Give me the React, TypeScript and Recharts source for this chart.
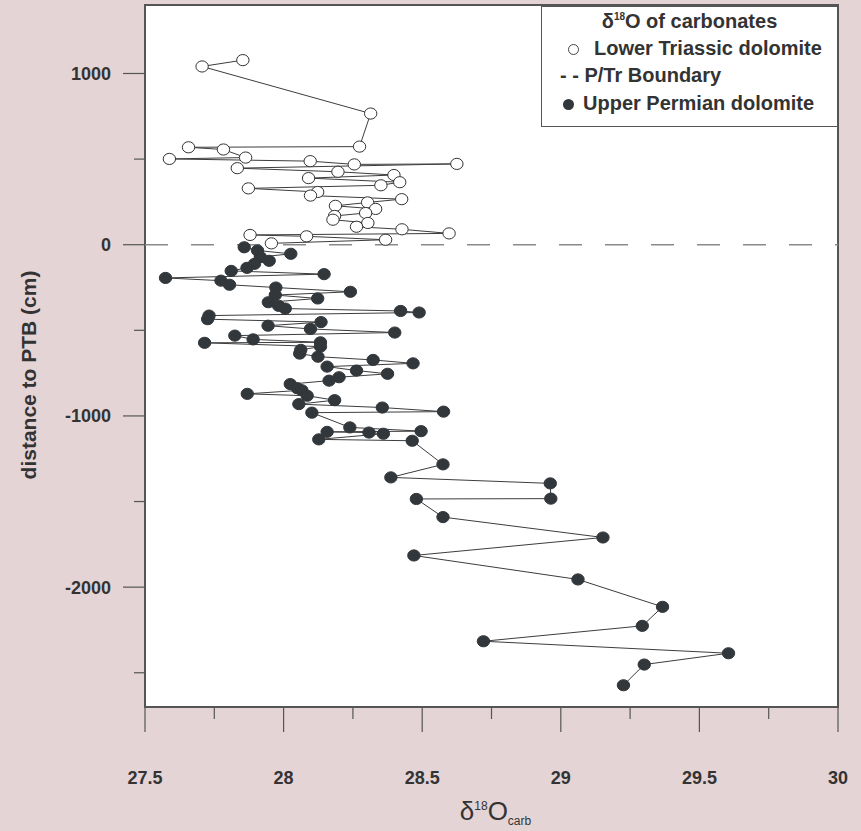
import {
  ScatterChart,
  Scatter,
  XAxis,
  YAxis,
  CartesianGrid,
  ReferenceLine,
  ReferenceArea,
} from 'recharts';

// Lower Triassic dolomite, listed in the order the profile line joins them
const triassicO18 = [
  27.853, 27.706, 28.314, 28.274, 27.657, 27.783, 27.863, 27.588, 28.096, 28.255,
  28.625, 27.833, 28.196, 28.398, 28.09, 28.419, 28.351, 27.873, 28.123, 28.097,
  28.426, 28.303, 28.187, 28.332, 28.296, 28.184, 28.178, 28.304, 28.263, 28.427,
  28.597, 27.879, 28.083, 28.368, 27.956,
];
const triassicDepth = [
  1078, 1041, 766, 573, 569, 556, 509, 501, 488, 469,
  472, 447, 426, 407, 389, 365, 347, 329, 308, 287,
  266, 247, 227, 209, 185, 168, 146, 127, 105, 90,
  66, 57, 49, 29, 8,
];

// Upper Permian dolomite
const permianO18 = [
  27.858, 27.906, 28.026, 27.916, 27.948, 27.895, 27.868, 27.811, 28.146, 27.574,
  27.774, 27.805, 27.972, 28.241, 27.97, 28.123, 27.945, 27.982, 28.006, 28.422,
  28.489, 27.731, 27.726, 28.135, 27.944, 28.097, 28.401, 27.824, 27.89, 28.133,
  27.715, 28.133, 28.062, 28.058, 28.124, 28.323, 28.467, 28.157, 28.263, 28.375,
  28.2, 28.164, 28.024, 28.049, 28.066, 27.869, 28.085, 28.184, 28.055, 28.356,
  28.577, 28.102, 28.239, 28.496, 28.157, 28.308, 28.36, 28.127, 28.464, 28.575,
  28.387, 28.962, 28.964, 28.479, 28.575, 29.152, 28.47, 29.062, 29.367, 29.294,
  28.721, 29.605, 29.301, 29.226,
];
const permianDepth = [
  -15, -34, -53, -72, -94, -112, -135, -153, -172, -194,
  -210, -234, -250, -275, -294, -314, -336, -357, -373, -387,
  -396, -414, -435, -452, -473, -492, -513, -531, -553, -570,
  -573, -595, -614, -636, -654, -673, -693, -712, -735, -754,
  -774, -794, -814, -838, -850, -871, -882, -908, -931, -951,
  -975, -981, -1067, -1089, -1093, -1097, -1104, -1137, -1145, -1283,
  -1359, -1394, -1483, -1485, -1591, -1710, -1815, -1955, -2115, -2226,
  -2316, -2386, -2452, -2573,
];

const xTicks = [27.5, 27.75, 28, 28.25, 28.5, 28.75, 29, 29.25, 29.5, 29.75, 30];
const xLabelled = [27.5, 28, 28.5, 29, 29.5, 30];
const yTicks = [-2500, -2000, -1500, -1000, -500, 0, 500, 1000];
const yLabelled = [-2000, -1000, 0, 1000];

const FONT = "'Liberation Sans', Arial, Helvetica, sans-serif";
const INK = '#333';

const triassic = triassicO18.map((x, i) => ({ x, y: triassicDepth[i] }));
const permian = permianO18.map((x, i) => ({ x, y: permianDepth[i] }));

function OpenMark(props: any) {
  const { cx, cy } = props;
  return <ellipse cx={cx} cy={cy} rx={6.2} ry={5.6} fill="#fff" stroke="#333" strokeWidth={1} />;
}

function FilledMark(props: any) {
  const { cx, cy } = props;
  return <ellipse cx={cx} cy={cy} rx={6.2} ry={5.6} fill="#32373c" stroke="#32373c" strokeWidth={1} />;
}

function XTick(props: any) {
  const { x, y, payload } = props;
  const major = xLabelled.includes(payload.value);
  return (
    <g>
      <line x1={x} x2={x} y1={y} y2={y + (major ? 25 : 12)} stroke="#555" strokeWidth={1.2} />
      {major && (
        <text x={x} y={y + 77} textAnchor="middle" fontSize={18} fontWeight="bold" fill={INK} fontFamily={FONT}>
          {payload.value}
        </text>
      )}
    </g>
  );
}

function YTick(props: any) {
  const { x, y, payload } = props;
  const major = yLabelled.includes(payload.value);
  return (
    <g>
      <line x1={x - (major ? 22 : 11)} x2={x} y1={y} y2={y} stroke="#555" strokeWidth={1.2} />
      {major && (
        <text x={x - 34} y={y} dy="0.36em" textAnchor="end" fontSize={18} fontWeight="bold" fill={INK} fontFamily={FONT}>
          {payload.value}
        </text>
      )}
    </g>
  );
}

function YTitle(props: any) {
  const { viewBox } = props;
  const cx = viewBox.x + 28;
  const cy = viewBox.y + 370;
  return (
    <text x={cx} y={cy} transform={`rotate(-90 ${cx} ${cy})`} textAnchor="middle" dy="0.36em"
      fontSize={21} fontWeight="bold" fill={INK} fontFamily={FONT}>
      distance to PTB (cm)
    </text>
  );
}

function XTitle(props: any) {
  const { viewBox } = props;
  const cx = viewBox.x + viewBox.width / 2 + 4;
  const cy = viewBox.y + 113;
  return (
    <text x={cx} y={cy} textAnchor="middle" fontSize={26} fill={INK} fontFamily={FONT}>
      <tspan>δ</tspan>
      <tspan dy={-10} fontSize={12}>18</tspan>
      <tspan dy={10}>O</tspan>
      <tspan dy={5} fontSize={12}>carb</tspan>
    </text>
  );
}

function LegendBox() {
  const row = { position: 'absolute' as const, whiteSpace: 'nowrap' as const, lineHeight: '22px', height: 22 };
  return (
    <div
      style={{
        position: 'absolute', left: 541, top: 6, width: 297, height: 121, boxSizing: 'border-box',
        border: '1px solid #555', background: '#fff', fontFamily: FONT, fontWeight: 'bold',
        fontSize: 20, color: INK,
      }}
    >
      <div style={{ ...row, top: 3, left: 0, width: 295, textAlign: 'center' }}>
        δ<sup style={{ fontSize: 10, verticalAlign: 'top', lineHeight: '14px' }}>18</sup>O of carbonates
      </div>
      <div style={{ ...row, top: 30, left: 26 }}>
        <span style={{ display: 'inline-block', width: 9, height: 9, borderRadius: '50%', border: '1px solid #444', marginRight: 15, verticalAlign: 'middle' }} />
        Lower Triassic dolomite
      </div>
      <div style={{ ...row, top: 57, left: 18 }}>- - P/Tr Boundary</div>
      <div style={{ ...row, top: 85, left: 21 }}>
        <span style={{ display: 'inline-block', width: 11, height: 11, borderRadius: '50%', background: '#32373c', marginRight: 9, verticalAlign: 'middle' }} />
        Upper Permian dolomite
      </div>
    </div>
  );
}

export default function App() {
  return (
    <div style={{ position: 'absolute', left: 0, top: 0, width: 861, height: 831, background: '#e4d4d6', fontFamily: FONT }}>
      <ScatterChart width={861} height={831} margin={{ top: 5, right: 23, bottom: 0, left: 0 }}>
        <CartesianGrid horizontal={false} vertical={false} fill="#fff" />
        <XAxis
          type="number"
          dataKey="x"
          domain={[27.5, 30]}
          ticks={xTicks}
          interval={0}
          height={124}
          axisLine={false}
          tickLine={false}
          tickSize={0}
          tickMargin={0}
          tick={<XTick />}
          label={<XTitle />}
        />
        <YAxis
          type="number"
          dataKey="y"
          domain={[-2700, 1400]}
          ticks={yTicks}
          interval={0}
          width={145}
          axisLine={false}
          tickLine={false}
          tickSize={0}
          tickMargin={0}
          tick={<YTick />}
          label={<YTitle />}
        />
        <ReferenceLine y={0} stroke="#8a8a8a" strokeWidth={1.6} strokeDasharray="23 23" />
        <Scatter
          data={triassic}
          line={{ stroke: '#3d3d3d', strokeWidth: 1 }}
          lineType="joint"
          shape={OpenMark}
          isAnimationActive={false}
        />
        <Scatter
          data={permian}
          line={{ stroke: '#3d3d3d', strokeWidth: 1 }}
          lineType="joint"
          shape={FilledMark}
          isAnimationActive={false}
        />
        <ReferenceArea x1={27.5} x2={30} y1={-2700} y2={1400} fill="none" fillOpacity={0} stroke="#555" strokeWidth={2} />
      </ScatterChart>
      <LegendBox />
    </div>
  );
}
